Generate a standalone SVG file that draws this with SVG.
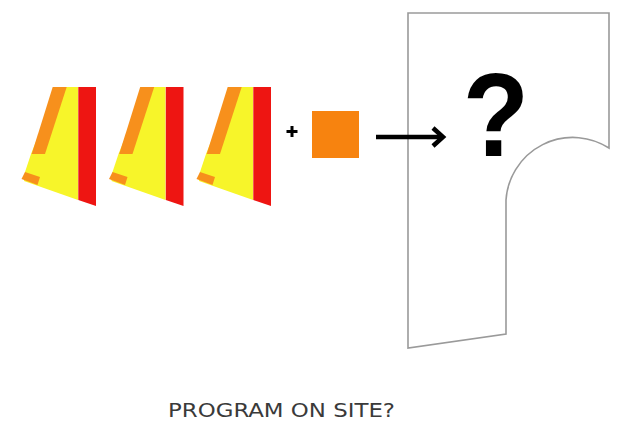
<svg xmlns="http://www.w3.org/2000/svg" width="628" height="434" viewBox="0 0 628 434">
<defs>
<style>
.y{fill:#F7F52A}
.r{fill:#EE1512}
.o{fill:#F7901C}
.site{fill:#fff;stroke:#9a9a9a;stroke-width:1.6;stroke-linejoin:miter}
.conn{fill:none;stroke:#000;stroke-width:4.5}
.label{font-family:"DejaVu Sans Condensed","Liberation Sans",sans-serif;font-size:20px;fill:#3a3a3a}
.q{font-family:"Liberation Sans",Arial,sans-serif;font-weight:bold;font-size:118px;fill:#000}
</style>
<g id="unit">
<polygon class="y" points="58,87 78,87 78,200 24,181 25,172 31,154"/>
<polygon class="o" points="52.7,87 66.7,87 45,154 31.7,154"/>
<polygon class="o" points="25,172 40,177 37.5,185 21.5,179"/>
<polygon class="r" points="78.3,87 96,87 96,206 78.3,200"/>
</g>
</defs>
<rect width="628" height="434" fill="#fff"/>
<g id="site">
<path class="site" d="M408,13 L609,13 L609,148 A67,67 0 0 0 506,200 L506,334 L408,348 Z"/>
<text class="q" x="0" y="0" text-anchor="middle" transform="translate(496,156) scale(0.92,1)">?</text>
</g>
<g id="program1"><use href="#unit"/></g>
<g id="program2"><use href="#unit" x="87.5"/></g>
<g id="program3"><use href="#unit" x="175"/></g>
<g id="plus"><path d="M286.5,131.5 H297.5 M292,126 V137" stroke="#000" stroke-width="3" fill="none"/></g>
<g id="block"><rect x="312" y="111" width="47" height="47" fill="#F7830F"/></g>
<g id="connectors">
<path class="conn" d="M376,137 H442"/>
<path class="conn" d="M433,128 L443,137 L433,146"/>
</g>
<g id="caption"><text class="label" x="168" y="417" textLength="227" lengthAdjust="spacingAndGlyphs">PROGRAM ON SITE?</text></g>
</svg>
